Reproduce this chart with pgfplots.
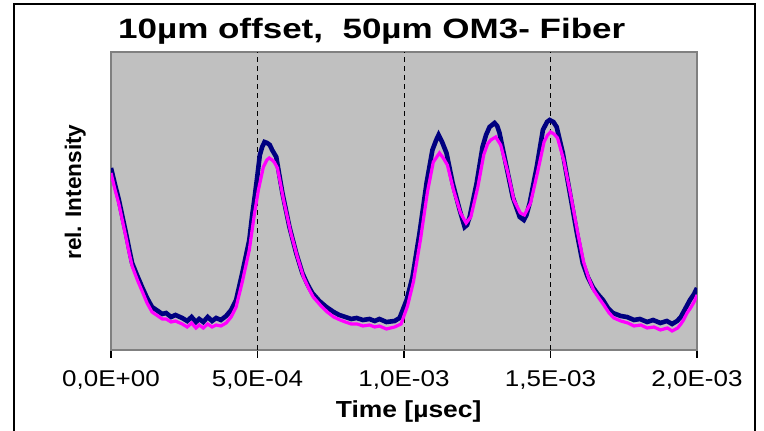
\documentclass[border=0pt]{standalone}
\usepackage{pgfplots}
\pgfplotsset{compat=1.18}
\usepackage{fontspec}
\setmainfont{Liberation Sans}
\newfontfamily\widefont[FakeStretch=1.25]{Liberation Sans}
\newfontfamily\tickfont[FakeStretch=1.14]{Liberation Sans}

\definecolor{silverbg}{RGB}{192,192,192}
\definecolor{frame128}{RGB}{128,128,128}
\definecolor{navy}{RGB}{0,0,128}
\definecolor{magenta255}{RGB}{255,0,255}

\begin{document}
\begin{tikzpicture}
\useasboundingbox (-55.5pt,-40.5pt) rectangle (326.5pt,175pt);
% outer chart frame (bottom edge lies off the page)
\draw[black, line width=0.8pt] (-48.5pt,-41pt) -- (-48.5pt,173pt) -- (322pt,173pt) -- (322pt,-41pt);

\begin{axis}[
at={(0,0)}, anchor=south west,
scale only axis,
width=293pt, height=149pt,
xmin=0, xmax=2, ymin=0, ymax=298,
axis background/.style={fill=silverbg},
axis line style={draw=frame128, line width=0.8pt},
xtick={0,0.5,1,1.5,2},
xticklabels={0{,}0E+00,5{,}0E-04,1{,}0E-03,1{,}5E-03,2{,}0E-03},
xtick pos=bottom,
tick align=outside,
major tick length=4pt,
xtick style={black, line width=0.6pt},
ytick=\empty,
xticklabel style={font=\tickfont\fontsize{11.4}{13}\selectfont, yshift=-3pt},
extra x ticks={0.5,1,1.5},
extra x tick labels={},
extra x tick style={grid=major, major tick length=0pt},
grid style={black, line width=0.5pt, dash pattern=on 2.5pt off 2pt},
every axis title shift=0pt,
title={\bfseries 10µm offset,\ \ 50µm OM3- Fiber},
title style={font=\widefont\fontsize{14}{16}\selectfont, at={(axis description cs:0.445,1.045)}, anchor=base},
xlabel={\bfseries Time [µsec]},
xlabel style={font=\tickfont\fontsize{11.6}{13}\selectfont, at={(axis description cs:0.508,-0.225)}, anchor=base},
ylabel={\bfseries rel. Intensity},
ylabel style={font=\fontsize{11.3}{13}\selectfont, at={(axis description cs:-0.061,0.53)}, anchor=center},
]
\addplot[navy, line width=2.3pt] table {
0.000 182
0.014 165
0.027 150
0.040 132
0.051 117
0.062 101
0.072 87
0.090 74
0.106 63
0.123 52
0.140 43
0.160 39
0.175 36
0.188 37
0.205 33
0.220 35
0.243 32
0.260 29
0.275 33
0.290 28
0.301 31
0.315 28
0.330 33
0.345 29
0.359 32
0.375 30
0.393 34
0.410 40
0.427 50
0.448 77
0.472 110
0.482 135
0.489 150
0.499 173
0.508 195
0.516 203
0.524 208
0.533 207
0.542 205
0.550 200
0.564 193
0.585 157
0.609 123
0.632 97
0.653 77
0.670 66
0.687 57
0.711 49
0.735 43
0.760 38
0.779 35
0.800 33
0.820 31
0.838 32
0.860 30
0.882 31
0.900 29
0.916 31
0.940 28
0.968 29
0.985 32
1.009 50
1.029 73
1.053 117
1.077 167
1.097 200
1.110 210
1.118 215
1.130 208
1.145 197
1.166 167
1.190 140
1.207 123
1.215 125
1.224 133
1.248 167
1.268 203
1.280 215
1.292 223
1.309 227
1.318 224
1.326 217
1.350 183
1.371 153
1.395 133
1.409 130
1.418 135
1.429 147
1.453 183
1.474 220
1.488 228
1.497 230
1.510 228
1.521 223
1.542 197
1.566 157
1.590 117
1.610 87
1.627 73
1.644 63
1.661 56
1.679 50
1.696 42
1.713 37
1.740 34
1.761 33
1.785 30
1.805 31
1.830 28
1.850 30
1.875 27
1.897 29
1.915 26
1.932 29
1.945 33
1.952 37
1.965 44
1.976 50
1.990 56
2.000 62
};
\addplot[magenta255, line width=1.6pt] table {
0.000 177
0.014 160
0.027 146
0.040 128
0.051 113
0.062 97
0.072 84
0.090 70
0.106 59
0.123 47
0.140 38
0.160 34
0.175 31
0.188 31
0.205 28
0.220 29
0.243 26
0.260 23
0.275 27
0.290 22
0.301 25
0.315 22
0.330 26
0.345 23
0.359 25
0.375 24
0.393 27
0.410 33
0.427 43
0.448 68
0.472 100
0.489 135
0.503 160
0.520 183
0.532 190
0.540 192
0.550 190
0.557 188
0.568 182
0.589 150
0.613 118
0.636 93
0.657 73
0.674 62
0.690 53
0.714 45
0.738 38
0.760 33
0.782 30
0.800 28
0.820 26
0.840 26
0.860 24
0.882 25
0.900 23
0.916 24
0.940 21
0.968 23
0.990 26
1.012 44
1.032 68
1.056 110
1.080 158
1.100 188
1.121 197
1.134 192
1.148 185
1.169 160
1.193 137
1.212 127
1.228 133
1.252 163
1.272 195
1.285 206
1.296 210
1.313 213
1.330 205
1.354 178
1.375 150
1.397 137
1.411 135
1.432 147
1.456 178
1.478 208
1.490 215
1.500 218
1.512 216
1.524 212
1.545 190
1.569 155
1.593 117
1.613 88
1.630 72
1.647 60
1.665 52
1.682 45
1.700 37
1.716 32
1.740 29
1.764 27
1.785 24
1.808 25
1.830 22
1.853 23
1.875 20
1.899 22
1.915 19
1.934 22
1.945 26
1.954 30
1.966 37
1.978 42
1.990 48
2.000 55
};
\end{axis}
\end{tikzpicture}
\end{document}
